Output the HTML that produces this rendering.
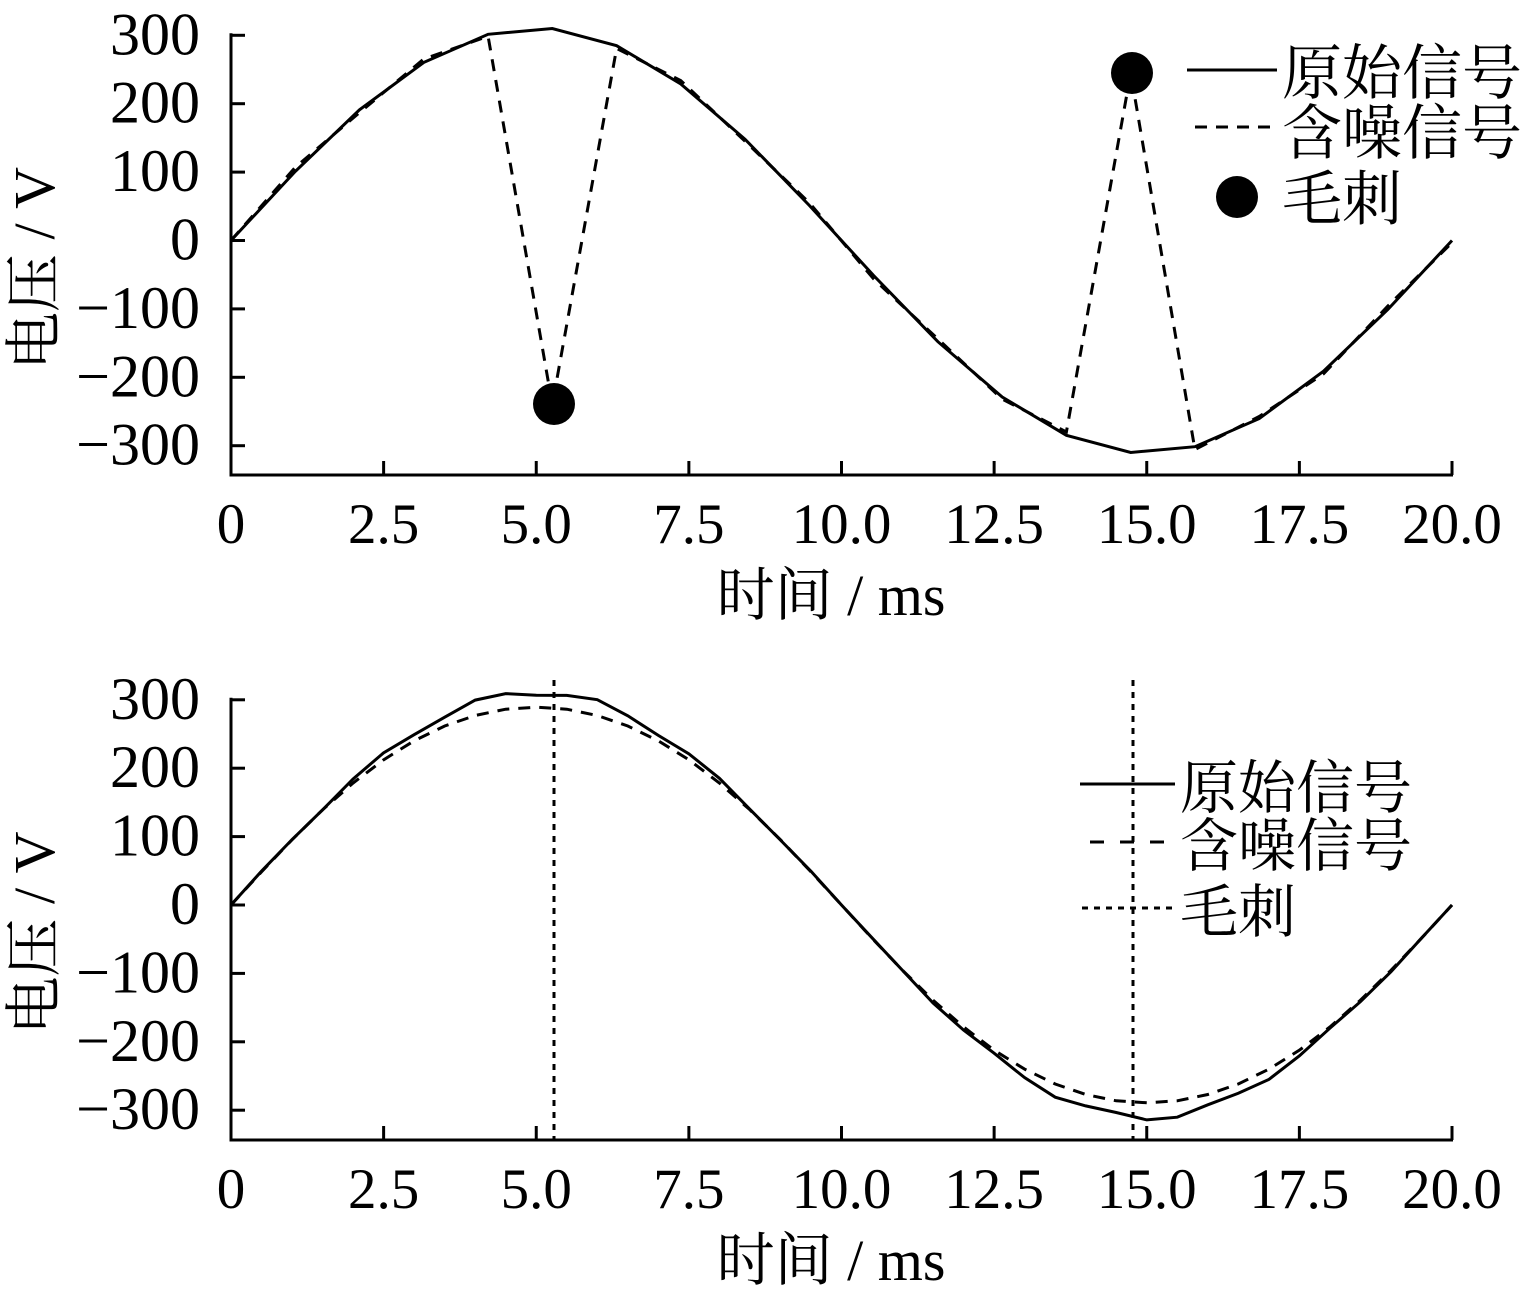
<!DOCTYPE html>
<html><head><meta charset="utf-8">
<style>
html,body{margin:0;padding:0;background:#fff;}
svg text{font-family:"Liberation Serif","Noto Serif CJK SC",serif;fill:#000;}
</style></head>
<body>
<svg id="s" width="1522" height="1301" viewBox="0 0 1522 1301" xmlns="http://www.w3.org/2000/svg"></svg>
<script>
const S=document.getElementById('s');
let h='';
const X0=231,XS=61.05;
function px(t){return X0+t*XS;}
function axes(y0,ybot){
  const ys=0.684;
  h+=`<line x1="${X0}" y1="${y0-300*ys-2}" x2="${X0}" y2="${ybot}" stroke="#000" stroke-width="3"/>`;
  h+=`<line x1="${X0-1.5}" y1="${ybot}" x2="1453" y2="${ybot}" stroke="#000" stroke-width="3"/>`;
  for(let v=-300;v<=300;v+=100){const y=y0-v*ys;
    h+=`<line x1="${X0}" y1="${y}" x2="${X0+14}" y2="${y}" stroke="#000" stroke-width="3"/>`;
    h+=`<text x="${X0-31}" y="${y+19}" font-size="60" text-anchor="end">${v<0?'−'+(-v):v}</text>`;}
  const lab=['0','2.5','5.0','7.5','10.0','12.5','15.0','17.5','20.0'];
  lab.forEach((l,i)=>{const x=px(i*2.5);
    h+=`<line x1="${x}" y1="${ybot}" x2="${x}" y2="${ybot-14}" stroke="#000" stroke-width="3"/>`;
    h+=`<text x="${x}" y="${ybot+68}" font-size="57" text-anchor="middle">${l}</text>`;});
  h+=`<text x="831" y="${ybot+140}" font-size="58" text-anchor="middle">时间 / ms</text>`;
  h+=`<text transform="translate(54,${y0+28}) rotate(-90)" font-size="58" text-anchor="middle">电压 / V</text>`;
  return ys;
}
function path(pts,y0,ys,extra){
  return `<polyline fill="none" stroke="#000" stroke-width="3" ${extra} points="${pts.map(p=>px(p[0]).toFixed(1)+','+(y0-p[1]*ys).toFixed(1)).join(' ')}"/>`;
}
let y0=240.5, ys=axes(y0,475);
let o=[],n=[];
const noise=[0,6,-4,5,-3,0,-4,5,-3,4,-5,4,-3,5,0,-4,3,-4,5,-3];
for(let k=0;k<=19;k++){const t=k*20/19,v=311*Math.sin(2*Math.PI*t/20);o.push([t,v]);
  let w=v+noise[k]; if(k==5)w=-240; if(k==14)w=245; n.push([t,w]);}
h+=path(o,y0,ys,'');
h+=path(n,y0,ys,'stroke-dasharray="12,9"');
h+=`<circle cx="554" cy="404" r="21"/><circle cx="1132" cy="73" r="21"/>`;
h+=`<line x1="1187" y1="70" x2="1277" y2="70" stroke="#000" stroke-width="3"/><text x="1282" y="94" font-size="60">原始信号</text>`;
h+=`<line x1="1195" y1="127" x2="1277" y2="127" stroke="#000" stroke-width="3" stroke-dasharray="12,9"/><text x="1282" y="154" font-size="60">含噪信号</text>`;
h+=`<circle cx="1237" cy="197" r="21"/><text x="1282" y="220" font-size="60">毛刺</text>`;
y0=905; ys=axes(y0,1140);
o=[];n=[];
for(let k=0;k<=40;k++){const t=k*0.5;const v=311*Math.sin(2*Math.PI*t/20)*(1+0.015*Math.sin(k*1.7));o.push([t,v]);}
for(let k=0;k<=40;k++){const t=k*0.5;const s=Math.sin(2*Math.PI*t/20);const v=311*s*(1-0.07*s*s);n.push([t,v]);}
h+=path(o,y0,ys,'');
h+=path(n,y0,ys,'stroke-dasharray="12,9"');
h+=`<line x1="554" y1="680" x2="554" y2="1140" stroke="#000" stroke-width="3" stroke-dasharray="6,6"/>`;
h+=`<line x1="1133" y1="680" x2="1133" y2="1140" stroke="#000" stroke-width="3" stroke-dasharray="6,6"/>`;
h+=`<line x1="1080" y1="784" x2="1175" y2="784" stroke="#000" stroke-width="3"/><text x="1180" y="808" font-size="58">原始信号</text>`;
h+=`<line x1="1090" y1="842" x2="1175" y2="842" stroke="#000" stroke-width="3" stroke-dasharray="14,16"/><text x="1180" y="866" font-size="58">含噪信号</text>`;
h+=`<line x1="1082" y1="908" x2="1175" y2="908" stroke="#000" stroke-width="3" stroke-dasharray="6,6"/><text x="1180" y="932" font-size="58">毛刺</text>`;
S.innerHTML=h;
</script>
</body></html>
